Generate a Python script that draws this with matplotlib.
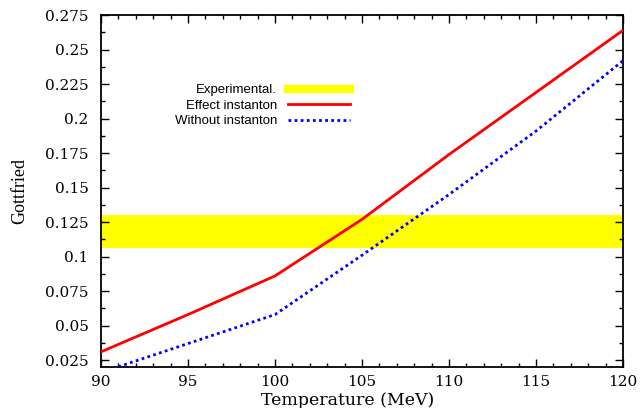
import matplotlib
matplotlib.use("Agg")
import matplotlib.pyplot as plt
from matplotlib.ticker import MultipleLocator
from matplotlib.lines import Line2D

temps = [90, 95, 100, 105, 110, 115, 120]
with_inst = [0.031, 0.058, 0.086, 0.127, 0.174, 0.219, 0.264]
without_inst = [0.016, 0.037, 0.058, 0.101, 0.145, 0.191, 0.242]
exp_low, exp_high = 0.1065, 0.130

fig = plt.figure(figsize=(6.41, 4.08), dpi=100)
ax = fig.add_axes([0.1576, 0.1005, 0.8144, 0.8625])

ax.axhspan(exp_low, exp_high, color="#ffff00", lw=0, zorder=1)
ax.plot(temps, with_inst, color="#ff0000", lw=2.0, zorder=3)
ax.plot(temps, without_inst, color="#0000ff", lw=2.0, ls=(0, (1, 1.2)), zorder=3)

ax.set_xlim(90, 120)
ax.set_ylim(0.02, 0.275)
ax.xaxis.set_major_locator(MultipleLocator(5))
ax.xaxis.set_minor_locator(MultipleLocator(1))
ax.yaxis.set_minor_locator(MultipleLocator(0.0125))
ax.tick_params(which="both", direction="in", top=True, right=True, width=1)
ax.tick_params(which="major", length=6)
ax.tick_params(which="minor", length=3)
for s in ax.spines.values():
    s.set_linewidth(1.3)

yticks = [0.025, 0.05, 0.075, 0.1, 0.125, 0.15, 0.175, 0.2, 0.225, 0.25, 0.275]
ytick_labels = ["0.025", "0.05", "0.075", "0.1", "0.125", "0.15", "0.175",
                "0.2", "0.225", "0.25", "0.275"]
ax.set_yticks(yticks)
ax.set_yticklabels(ytick_labels)
for lab in ax.get_xticklabels() + ax.get_yticklabels():
    lab.set_fontfamily("DejaVu Serif")
    lab.set_fontsize(11)
ax.tick_params(axis="x", pad=6)
ax.tick_params(axis="y", pad=9)

ax.set_xlabel("Temperature (MeV)", fontfamily="DejaVu Serif", fontsize=12.5)
ax.xaxis.set_label_coords((348 - 101) / 522, -0.07)
ax.set_ylabel("Gottfried", fontfamily="Liberation Serif", fontsize=13)
ax.yaxis.set_label_coords(-0.14, 0.5)

handles = [Line2D([], [], color="#ffff00", lw=6),
           Line2D([], [], color="#ff0000", lw=2.0),
           Line2D([], [], color="#0000ff", lw=2.0, ls=(0, (1, 1.2)))]
labels = ["Experimental.", "Effect instanton", "Without instanton"]
leg = ax.legend(handles, labels, markerfirst=False, frameon=False,
                prop={"family": "Liberation Sans", "size": 9.5},
                handlelength=4.7, labelspacing=0.25, handletextpad=0.8,
                loc="upper left", bbox_to_anchor=(0.131, 0.819), borderaxespad=0)

fig.savefig("out.png", dpi=100)
